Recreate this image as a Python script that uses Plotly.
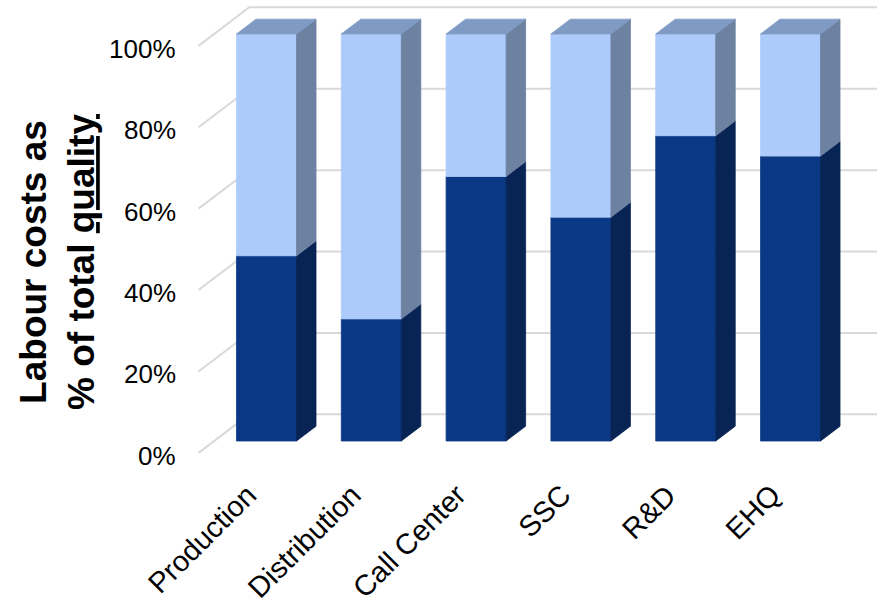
import plotly.graph_objects as go

# ---- data -------------------------------------------------------------
categories = ["Production", "Distribution", "Call Center", "SSC", "R&D", "EHQ"]
labour_share = [45.5, 30, 65, 55, 75, 70]          # dark segment (%)
other_share = [54.5, 70, 35, 45, 25, 30]           # light segment (%)
y_ticks = [0, 20, 40, 60, 80, 100]
y_tick_text = ["0%", "20%", "40%", "60%", "80%", "100%"]

# ---- styling ----------------------------------------------------------
W, H = 877, 603
BAR_W = 0.5725            # bar front width in category units
DX, DY = 0.186, 3.64      # oblique offset for one unit of depth (x units, % units)
D_FRONT, D_BACK = -0.8, 1.8
WALL_X = -0.5
X_RANGE = [-2.543, 5.825]
Y_RANGE = [-39.8, 108.35]

FRONT = ["#0b3885", "#adcbfa"]
SIDE = ["#072455", "#6d81a1"]
TOP = "#7f9bc4"
GRID = "#d9d9d9"
FONT = "Liberation Sans, Arial, sans-serif"


def proj(x, y, d):
    return x + d * DX, y + d * DY


fig = go.Figure()

# gridlines on the back wall and the left side wall
gx, gy = [], []
for v in y_ticks:
    x0, y0 = proj(WALL_X, v, D_FRONT)
    x1, y1 = proj(WALL_X, v, D_BACK)
    gx += [x0, x1, X_RANGE[1] + 1, None]
    gy += [y0, y1, y1, None]
fig.add_trace(go.Scatter(x=gx, y=gy, mode="lines",
                         line=dict(color=GRID, width=2),
                         hoverinfo="skip", showlegend=False))

# 3-D looking stacked bars
polys = {}


def add_poly(key, pts):
    xs, ys = polys.setdefault(key, ([], []))
    for px, py in pts:
        xs.append(px)
        ys.append(py)
    xs.append(pts[0][0]); ys.append(pts[0][1])
    xs.append(None); ys.append(None)


for i, cat in enumerate(categories):
    xl, xr = i - BAR_W / 2, i + BAR_W / 2
    base = 0
    segs = [labour_share[i], other_share[i]]
    for s, val in enumerate(segs):
        y0, y1 = base, base + val
        add_poly(("front", s), [(xl, y0), (xr, y0), (xr, y1), (xl, y1)])
        add_poly(("side", s), [(xr, y0), proj(xr, y0, 1), proj(xr, y1, 1), (xr, y1)])
        base = y1
    add_poly(("top", 0), [(xl, base), proj(xl, base, 1), proj(xr, base, 1), (xr, base)])

for key, (xs, ys) in polys.items():
    kind, s = key
    col = FRONT[s] if kind == "front" else SIDE[s] if kind == "side" else TOP
    fig.add_trace(go.Scatter(x=xs, y=ys, mode="lines", fill="toself",
                             fillcolor=col, line=dict(color=col, width=0.8),
                             hoverinfo="skip", showlegend=False))

annotations = []
# y tick labels on the front edge of the side wall
for v, t in zip(y_ticks, y_tick_text):
    ax, ay = proj(WALL_X, v, D_FRONT)
    annotations.append(dict(x=ax, y=ay, xref="x", yref="y", text=t,
                            showarrow=False, xanchor="right", yanchor="middle",
                            xshift=-21, yshift=-3,
                            font=dict(family=FONT, size=26, color="#000000")))

# category labels, rotated
for i, cat in enumerate(categories):
    annotations.append(dict(x=i - 0.01, y=-8.6, xref="x", yref="y", text=cat,
                            showarrow=False, xanchor="right", yanchor="top",
                            textangle=-45,
                            font=dict(family=FONT, size=29, color="#000000")))

# axis title
annotations.append(dict(x=57 / W, y=1 - 262 / H, xref="paper", yref="paper",
                        text="<b>Labour costs as<br>% of total <u>quality</u></b>",
                        showarrow=False, textangle=-90,
                        xanchor="center", yanchor="middle",
                        font=dict(family=FONT, size=37, color="#000000")))

fig.update_layout(
    width=W, height=H,
    margin=dict(l=0, r=0, t=0, b=0),
    paper_bgcolor="white", plot_bgcolor="white",
    xaxis=dict(range=X_RANGE, visible=False, fixedrange=True),
    yaxis=dict(range=Y_RANGE, visible=False, fixedrange=True),
    annotations=annotations,
    showlegend=False,
)

fig.write_html("out.html")
